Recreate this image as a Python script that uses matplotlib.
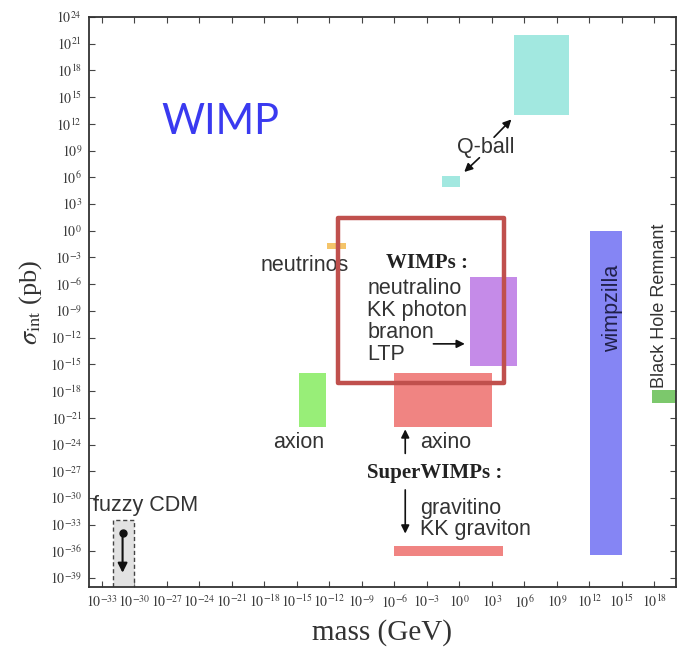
import matplotlib
matplotlib.use("Agg")
import matplotlib.pyplot as plt
from matplotlib.patches import Rectangle
from matplotlib.ticker import FixedLocator, FuncFormatter

# Candidate regions: log10 of mass range (GeV) and cross-section range (pb)
candidates = ["fuzzy CDM", "axion", "neutrinos", "axino", "gravitino",
              "WIMPs", "Q-ball light", "Q-ball heavy", "wimpzilla",
              "Black Hole Remnant"]
log_mass_lo = [-32.0, -14.8, -12.2, -6.0, -6.0, 1.0, -1.6, 5.0, 12.1, 17.8]
log_mass_hi = [-30.0, -12.3, -10.5, 3.0, 4.0, 5.3, 0.1, 10.1, 15.0, 21.0]
log_sigma_lo = [-41.0, -22.0, -2.0, -22.0, -36.5, -15.2, 4.9, 13.0, -36.4, -19.3]
log_sigma_hi = [-32.5, -16.0, -1.4, -16.0, -35.4, -5.2, 6.1, 22.0, 0.0, -17.9]

x_tick_exponents = list(range(-33, 19, 3))
y_tick_exponents = list(range(-39, 25, 3))

# Styling
fills = ["#e2e2e2", "#98ee78", "#f4c46a", "#f08482", "#f08482",
         "#c58be8", "#a2e8e0", "#a2e8e0", "#8585f4", "#7cc86c"]
edge_styles = [dict(edgecolor="#444444", linestyle=(0, (3, 2)), linewidth=1.0)] + \
              [dict(edgecolor="none", linewidth=0)] * 9

plt.rcParams["mathtext.fontset"] = "stix"
SANS = ["Liberation Sans", "DejaVu Sans"]
SERIF = ["Liberation Serif", "DejaVu Serif"]
TXT = "#333333"

fig = plt.figure(figsize=(6.77, 6.51), dpi=100)
ax = fig.add_axes([89 / 677, 64 / 651, 587 / 677, 570 / 651])
ax.set_xscale("log")
ax.set_yscale("log")
ax.set_xlim(10 ** -34.2, 10 ** 20.0)
ax.set_ylim(1e-40, 1e24)

for i, name in enumerate(candidates):
    x0, x1 = 10 ** log_mass_lo[i], 10 ** log_mass_hi[i]
    y0, y1 = 10 ** log_sigma_lo[i], 10 ** log_sigma_hi[i]
    ax.add_patch(Rectangle((x0, y0), x1 - x0, y1 - y0, facecolor=fills[i],
                           zorder=2, clip_on=True, **edge_styles[i]))

# Ticks
ax.xaxis.set_major_locator(FixedLocator([10.0 ** e for e in x_tick_exponents]))
ax.yaxis.set_major_locator(FixedLocator([10.0 ** e for e in y_tick_exponents]))
ax.xaxis.set_minor_locator(FixedLocator([]))
ax.yaxis.set_minor_locator(FixedLocator([]))
import math
fmt = FuncFormatter(lambda v, p: r"$10^{%d}$" % round(math.log10(v)))
ax.xaxis.set_major_formatter(fmt)
ax.yaxis.set_major_formatter(fmt)
ax.tick_params(which="major", direction="in", length=4, width=0.8,
               top=True, right=True, labelsize=10, labelcolor="#3a3a3a",
               colors="#444444", pad=5)
ax.tick_params(axis="x", labelcolor="#3a3a3a")
for s in ax.spines.values():
    s.set_color("#333333")
    s.set_linewidth(1.3)

ax.set_xlabel("mass (GeV)", family=SERIF, fontsize=21, color=TXT, labelpad=6)
ax.set_ylabel(r"$\sigma_{\rm int}$ (pb)", family=SERIF, fontsize=19,
              color=TXT, labelpad=4)


def L(lx, ly):
    return (10 ** lx, 10 ** ly)


arrow_kw = dict(arrowstyle="-|>", color="#111111", lw=1.2,
                mutation_scale=12, shrinkA=0, shrinkB=0)

# Labels
ax.text(*L(2.4, 9.3), "Q-ball", family=SANS, fontsize=15.5, color=TXT,
        ha="center", va="center")
ax.annotate("", xy=L(4.8, 12.5), xytext=L(3.2, 10.5), arrowprops=arrow_kw)
ax.annotate("", xy=L(0.45, 6.6), xytext=L(1.85, 8.2), arrowprops=arrow_kw)

ax.text(*L(-14.3, -3.9), "neutrinos", family=SANS, fontsize=15.5, color=TXT,
        ha="center", va="center")

ax.text(*L(-3.0, -3.6), "WIMPs :", family=SERIF, fontweight="bold",
        fontsize=15, color="#222222", ha="center", va="center")
for txt, ly in zip(["neutralino", "KK photon", "branon", "LTP"],
                   [-6.45, -8.9, -11.4, -13.9]):
    ax.text(*L(-8.5, ly), txt, family=SANS, fontsize=15.5, color=TXT,
            ha="left", va="center")
ax.annotate("", xy=L(0.5, -12.7), xytext=L(-2.4, -12.7), arrowprops=arrow_kw)

ax.text(*L(-14.8, -23.75), "axion", family=SANS, fontsize=15.5, color=TXT,
        ha="center", va="center")
ax.annotate("", xy=L(-5.0, -22.3), xytext=L(-5.0, -25.0), arrowprops=arrow_kw)
ax.text(*L(-3.6, -23.75), "axino", family=SANS, fontsize=15.5, color=TXT,
        ha="left", va="center")
ax.text(*L(-2.3, -27.2), "SuperWIMPs :", family=SERIF, fontweight="bold",
        fontsize=15, color="#222222", ha="center", va="center")
ax.annotate("", xy=L(-5.0, -34.0), xytext=L(-5.0, -29.1), arrowprops=arrow_kw)
ax.text(*L(-3.6, -31.2), "gravitino", family=SANS, fontsize=15.5, color=TXT,
        ha="left", va="center")
ax.text(*L(-3.6, -33.6), "KK graviton", family=SANS, fontsize=15.5,
        color=TXT, ha="left", va="center")

ax.text(*L(14.1, -8.7), "wimpzilla", family=SANS, fontsize=15.5,
        color="#20204a", rotation=90, ha="center", va="center")
ax.text(*L(18.5, -17.6), "Black Hole Remnant", family=SANS, fontsize=13,
        color=TXT, rotation=90, ha="center", va="bottom")

ax.text(*L(-33.8, -30.8), "fuzzy CDM", family=SANS, fontsize=15.5,
        color=TXT, ha="left", va="center")
ax.annotate("", xy=L(-31.1, -38.4), xytext=L(-31.1, -33.9),
            arrowprops=dict(arrowstyle="-|>", color="#111111", lw=1.5,
                            mutation_scale=14, shrinkA=0, shrinkB=0))
ax.plot([10 ** -31.1], [10 ** -33.9], "o", color="#111111", ms=5, zorder=4)

# Slide overlay: highlight frame and title
fig.patches.append(Rectangle((338 / 677, 1 - 383 / 651), 166 / 677, 165 / 651,
                             transform=fig.transFigure, fill=False,
                             edgecolor="#c0504d", linewidth=3.2,
                             joinstyle="round", zorder=10))
fig.text(220 / 677, 1 - 122 / 651, "WIMP", family=["Lato", "DejaVu Sans"],
         fontsize=30, color="#3a3af0", ha="center", va="center")

fig.savefig("out.png", dpi=100)
